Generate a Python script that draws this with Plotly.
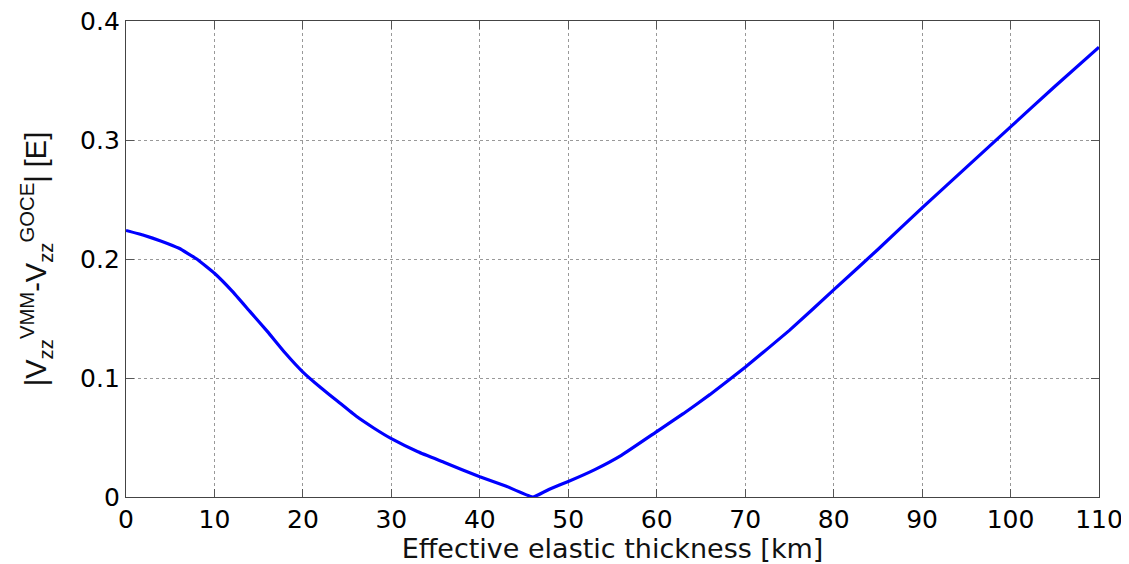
import plotly.graph_objects as go

thickness_km = [0, 2, 4, 6, 8, 10, 12, 14, 16, 18, 20, 22, 24, 26, 28, 30, 33, 36, 40, 43, 46,
                48, 50, 53, 56, 60, 63, 66, 70, 75, 80, 85, 90, 95, 100, 105, 110]
vzz_diff = [0.224, 0.220, 0.215, 0.209, 0.200, 0.188, 0.173, 0.156, 0.139, 0.121, 0.105,
            0.092, 0.080, 0.068, 0.058, 0.049, 0.038, 0.029, 0.017, 0.009, 0.000,
            0.007, 0.013, 0.023, 0.035, 0.055, 0.070, 0.086, 0.109, 0.140, 0.174,
            0.208, 0.243, 0.277, 0.311, 0.345, 0.378]

x_ticks = [0, 10, 20, 30, 40, 50, 60, 70, 80, 90, 100, 110]
y_ticks = [0, 0.1, 0.2, 0.3, 0.4]
y_tick_labels = ["0", "0.1", "0.2", "0.3", "0.4"]

TICKFONT = "DejaVu Sans, Arial, sans-serif"
TITLEFONT = "DejaVu Sans, Arial, sans-serif"

fig = go.Figure()
fig.add_trace(go.Scatter(x=thickness_km, y=vzz_diff, mode="lines",
                         line=dict(color="#0000ff", width=3.2, shape="spline", smoothing=0.3),
                         showlegend=False))

axis_common = dict(showline=True, linecolor="#444444", linewidth=1.3, mirror="ticks",
                   ticks="inside", ticklen=8, tickcolor="#555555",
                   showgrid=True, gridcolor="#999999", griddash="dot", gridwidth=1,
                   zeroline=False, ticklabeloverflow="allow",
                   tickfont=dict(family=TICKFONT, size=25, color="black"))

fig.update_xaxes(range=[0, 110], tickvals=x_ticks, **axis_common,
                 title=dict(text="Effective elastic thickness [km]", standoff=3,
                            font=dict(family=TITLEFONT, size=27, color="#111111")))
fig.update_yaxes(range=[0, 0.4], tickvals=y_ticks, ticktext=y_tick_labels, **axis_common,
                 title=dict(text="|V<sub>zz</sub><sup>VMM</sup>-V<sub>zz</sub><sup>GOCE</sup>| [E]",
                            standoff=24,
                            font=dict(family="Liberation Sans, Arial, sans-serif", size=29, color="#111111")))

fig.update_layout(width=1121, height=556, plot_bgcolor="white", paper_bgcolor="white",
                  margin=dict(l=118, r=30, t=13, b=67, autoexpand=False))

fig.write_html("out.html")
